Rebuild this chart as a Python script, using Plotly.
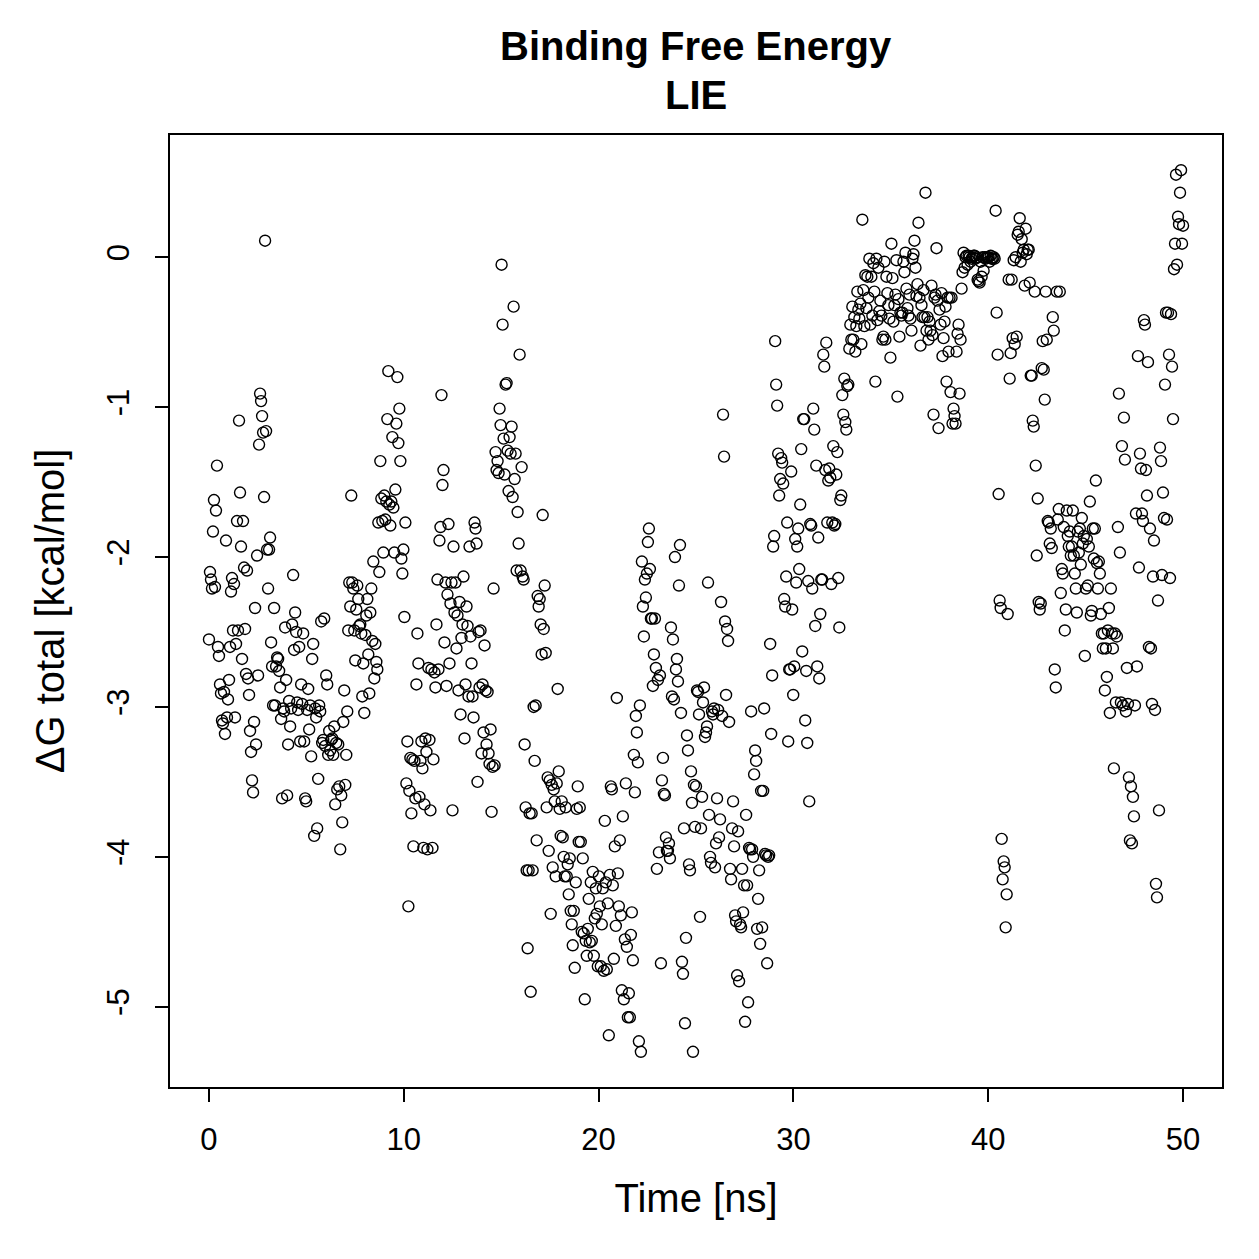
import plotly.graph_objects as go

# Delta G total (kcal/mol) per MD frame, in time order
dg_00_02 = [-2.55, -2.10, -2.15, -2.21, -1.83, -1.62, -2.20, -1.69, -1.39, -2.60, -2.66, -2.85, -2.91,
            -3.09, -3.11, -2.90, -3.18, -1.89, -3.07, -2.95, -2.82, -2.60, -2.23, -2.14, -2.49, -2.18,
            -3.07, -2.58, -1.76, -2.49, -1.09, -1.57, -1.93, -2.68, -1.76, -2.07, -2.48, -2.78, -2.09]
dg_02_05 = [-2.81, -2.92, -3.16, -3.30, -3.49, -3.57, -3.10, -2.34, -3.25, -1.99, -2.79, -1.25, -0.91,
            -0.96, -1.06, -1.17, -1.60, 0.11, -1.16, -1.95, -2.21, -1.95, -1.87, -2.57, -2.73, -2.99,
            -2.34, -2.99, -2.73, -2.67, -2.68, -2.76, -2.87, -3.08, -3.61, -3.01, -3.03, -2.47, -2.82,
            -3.59, -3.25, -2.96, -3.13, -3.01, -2.45, -2.12, -2.62, -2.37, -2.50, -2.97, -3.02, -2.60, -3.23]
dg_05_08 = [-2.85, -2.98, -2.51, -3.23, -3.61, -3.63, -3.02, -2.88, -3.15, -2.99, -3.33, -2.68, -2.58,
            -3.86, -3.01, -3.07, -3.81, -3.48, -2.99, -3.03, -2.43, -3.24, -3.22, -2.41, -3.26, -2.79,
            -2.85, -3.32, -3.16, -3.29, -3.22, -3.21, -3.32, -3.13, -3.65, -3.24, -3.55, -3.25, -3.53,
            -3.95, -3.59, -3.77, -3.10, -2.89, -3.52, -3.32, -3.03, -2.49, -2.17, -2.33, -1.59, -2.17,
            -2.21, -2.49, -2.69, -2.35, -2.19, -2.28, -2.46]
dg_08_11 = [-2.45, -2.51, -2.93, -2.71, -3.04, -2.52, -2.39, -2.28, -2.65, -2.91, -2.37, -2.21, -2.56,
            -2.03, -2.81, -2.58, -2.70, -2.75, -1.77, -2.10, -1.36, -1.61, -1.76, -1.97, -1.59, -1.75,
            -1.63, -1.08, -0.76, -1.65, -1.79, -1.63, -1.20, -1.67, -1.97, -1.55, -1.11, -0.80, -1.24,
            -1.01, -1.36, -2.01, -2.11, -1.95, -2.40, -1.77, -3.51, -3.23, -4.33, -3.56, -3.34, -3.71,
            -3.35, -3.93, -3.36, -3.61, -2.85, -2.51, -2.71]
dg_11_14 = [-3.60, -3.36, -3.23, -3.41, -3.94, -3.65, -3.21, -3.30, -3.95, -2.74, -3.22, -3.69, -2.75,
            -3.94, -3.35, -2.77, -2.87, -2.45, -2.15, -2.75, -1.89, -1.80, -0.92, -1.52, -1.42, -2.57,
            -2.17, -2.86, -2.25, -1.78, -2.71, -2.31, -2.17, -3.69, -1.93, -2.37, -2.17, -2.61, -2.39,
            -2.89, -2.30, -3.05, -2.54, -2.45, -2.13, -3.21, -2.85, -2.33, -2.46, -2.93, -1.93, -2.53,
            -2.71, -2.93, -3.07, -1.77, -1.81, -1.91, -3.50, -2.50]
dg_14_17 = [-2.87, -2.49, -3.31, -2.85, -3.17, -2.59, -2.89, -3.25, -2.90, -3.31, -3.38, -3.15, -3.70,
            -3.40, -2.21, -3.39, -1.30, -1.42, -1.36, -1.44, -1.01, -1.12, -0.05, -0.45, -1.21, -1.45,
            -0.85, -0.84, -1.29, -1.56, -1.20, -1.31, -1.13, -1.60, -0.33, -1.48, -1.31, -2.09, -1.70,
            -1.91, -0.65, -2.09, -1.40, -2.13, -2.15, -3.25, -3.67, -4.09, -4.61, -4.09, -3.71, -4.90,
            -3.71, -4.09, -3.00, -3.36, -2.99, -3.89, -2.26, -2.33]
dg_17_20 = [-2.28, -2.45, -2.65, -1.72, -2.48, -2.19, -2.64, -3.67, -3.47, -3.96, -3.49, -4.38, -3.52,
            -4.07, -3.55, -3.63, -4.13, -3.51, -2.88, -3.43, -3.68, -3.86, -3.63, -3.87, -4.00, -4.13,
            -3.67, -4.13, -4.05, -4.25, -4.01, -4.36, -4.45, -4.59, -4.36, -4.74, -4.17, -3.68, -3.53,
            -3.90, -3.67, -3.90, -4.50, -4.01, -4.51, -4.95, -4.56, -4.66, -4.48, -4.28, -4.57, -4.17,
            -4.56, -4.10, -4.66, -4.41, -4.21, -4.38]
dg_20_23 = [-4.73, -4.13, -4.33, -4.73, -4.45, -4.21, -4.76, -3.76, -4.17, -4.75, -4.31, -5.19, -4.12,
            -3.53, -3.55, -4.19, -4.68, -3.93, -4.46, -2.94, -4.11, -4.33, -3.89, -4.39, -4.89, -3.73,
            -4.95, -4.55, -3.51, -4.60, -5.07, -4.91, -5.07, -4.52, -4.37, -4.69, -3.32, -3.57, -3.06,
            -3.17, -3.37, -5.23, -2.99, -5.30, -2.03, -2.33, -2.53, -2.15, -2.27, -2.11, -1.90, -1.81,
            -2.08, -2.41, -2.41, -2.86, -2.65, -2.41, -2.74]
dg_23_26 = [-4.08, -2.82, -3.97, -2.79, -4.71, -3.49, -3.34, -3.58, -3.59, -3.87, -3.96, -3.96, -3.91,
            -4.01, -2.47, -2.93, -2.55, -2.95, -2.00, -2.75, -2.68, -2.83, -2.19, -1.92, -3.04, -4.70,
            -4.78, -3.81, -5.11, -4.54, -3.19, -3.29, -4.05, -4.09, -3.43, -3.64, -5.30, -3.52, -3.80,
            -3.53, -2.89, -2.90, -3.05, -4.40, -3.81, -3.60, -2.97, -2.87, -3.20, -3.17, -3.13, -2.17,
            -3.72, -4.00, -4.04, -3.03, -3.05, -3.01, -4.07]
dg_26_29 = [-3.91, -3.61, -3.02, -3.87, -3.75, -2.30, -3.06, -1.05, -1.33, -2.43, -2.92, -2.48, -2.56,
            -3.10, -4.08, -4.15, -3.81, -3.63, -3.93, -4.39, -4.43, -4.79, -3.83, -4.83, -4.45, -4.47,
            -4.08, -4.37, -4.19, -5.10, -3.72, -4.19, -4.97, -3.94, -3.95, -3.03, -3.95, -4.00, -3.45,
            -3.29, -3.36, -4.48, -4.28, -4.09, -4.58, -3.56, -4.47, -3.56, -3.01, -3.98, -3.99, -4.71,
            -4.00, -3.99, -2.58, -3.18, -2.79, -1.93, -1.86]
dg_29_32 = [-0.56, -0.85, -0.99, -1.31, -1.59, -1.48, -1.34, -1.37, -1.51, -2.28, -2.33, -2.13, -1.77,
            -3.23, -2.75, -2.75, -1.43, -2.35, -2.92, -2.73, -1.88, -2.17, -1.93, -1.81, -2.08, -1.65,
            -1.28, -2.63, -1.08, -1.08, -3.09, -2.76, -3.24, -2.16, -3.63, -1.78, -1.79, -2.21, -1.01,
            -1.15, -2.46, -1.39, -2.73, -1.87, -2.81, -2.38, -2.15, -2.15, -0.65, -0.73, -1.42, -0.57,
            -1.77, -1.49, -1.41, -1.47, -2.18, -1.77]
dg_32_35 = [-1.26, -1.79, -1.78, -1.45, -1.30, -2.14, -2.47, -1.62, -1.59, -0.92, -1.05, -0.81, -1.10,
            -1.15, -0.86, -0.85, -0.61, -0.45, -0.55, -0.33, -0.55, -0.40, -0.63, -0.46, -0.23, -0.35,
            -0.41, -0.31, -0.58, 0.25, -0.22, -0.46, -0.12, -0.34, -0.13, -0.27, -0.01, -0.45, -0.13,
            -0.39, -0.04, -0.23, -0.83, -0.01, -0.42, -0.07, -0.36, -0.29, -0.39, -0.55, -0.53, -0.03,
            -0.55, -0.13, -0.24, -0.32, -0.41, -0.67]
dg_35_38 = [0.09, -0.14, -0.43, -0.32, -0.25, -0.02, -0.93, -0.28, -0.53, -0.37, -0.39, -0.37, -0.03,
            -0.10, 0.03, -0.21, -0.34, -0.39, -0.25, -0.41, -0.49, -0.01, 0.02, 0.11, -0.07, -0.26,
            -0.18, 0.23, -0.27, -0.59, -0.32, -0.40, -0.22, -0.40, 0.43, -0.49, -0.40, -0.55, -0.43,
            -0.49, -0.19, -0.52, -1.05, -0.27, -0.25, 0.06, -0.29, -1.14, -0.35, -0.45, -0.24, -0.66,
            -0.54, -0.43, -0.33, -0.83, -0.27, -0.63, -0.27]
dg_38_41 = [-0.90, -0.27, -1.11, -1.01, -1.06, -1.11, -0.63, -0.51, -0.45, -0.91, -0.55, -0.21, -0.10,
            0.03, -0.07, 0.00, 0.01, -0.05, 0.01, 0.00, -0.03, -0.01, 0.00, 0.01, 0.01, -0.01, 0.00,
            -0.15, -0.16, -0.17, -0.03, -0.13, 0.00, -0.09, 0.00, -0.01, 0.00, 0.00, 0.00, -0.03, 0.01,
            -0.01, -0.01, 0.00, -0.01, 0.31, -0.37, -0.65, -1.58, -2.29, -2.34, -3.88, -4.15, -4.03,
            -4.07, -4.47, -4.25, -2.38]
dg_41_44 = [-0.15, -0.81, -0.64, -0.15, -0.54, -0.02, -0.58, 0.00, -0.53, 0.15, 0.17, 0.26, -0.03,
            0.12, 0.03, 0.05, -0.19, 0.19, 0.02, 0.05, 0.05, -0.17, -0.79, -0.79, -1.09, -1.13, -0.23,
            -1.39, -1.99, -1.61, -2.30, -2.35, -2.31, -0.74, -0.56, -0.75, -0.95, -0.23, -0.55, -1.76,
            -1.77, -1.91, -1.81, -1.94, -0.40, -0.49, -2.75, -2.87, -0.23, -1.75, -1.68, -0.23, -2.24,
            -2.08, -2.11, -1.80, -2.49, -2.35, -1.69]
dg_44_47 = [-1.86, -1.93, -1.83, -1.99, -1.93, -1.69, -1.99, -2.11, -2.21, -2.37, -1.83, -1.97, -1.81,
            -2.05, -1.74, -1.91, -1.86, -2.66, -2.21, -1.88, -2.19, -1.93, -1.63, -2.39, -2.36, -1.81,
            -2.01, -1.81, -1.49, -2.04, -2.21, -2.03, -2.11, -2.38, -2.51, -2.61, -2.51, -2.89, -2.61,
            -2.80, -2.49, -2.34, -3.04, -2.21, -2.51, -2.61, -3.41, -2.51, -2.97, -2.53, -1.80, -0.91,
            -1.97, -2.97, -1.26, -2.99, -1.07, -1.35]
dg_47_50 = [-3.03, -2.74, -2.98, -3.47, -3.89, -3.53, -3.91, -3.60, -3.73, -2.99, -1.71, -2.73, -0.66,
            -2.07, -1.31, -1.41, -1.71, -1.76, -0.42, -0.45, -1.42, -1.59, -0.70, -2.60, -1.81, -2.61,
            -2.98, -2.13, -1.89, -3.02, -4.18, -4.27, -2.29, -3.69, -1.27, -1.36, -2.12, -1.57, -1.74,
            -0.85, -0.37, -1.75, -0.37, -0.65, -2.14, -0.38, -0.73, -1.08, -0.08, 0.09, 0.55, -0.05,
            0.27, 0.22, 0.43, 0.58, 0.09, 0.21]

dg_total = (dg_00_02 + dg_02_05 + dg_05_08 + dg_08_11 + dg_11_14 + dg_14_17 + dg_17_20 + dg_20_23
            + dg_23_26 + dg_26_29 + dg_29_32 + dg_32_35 + dg_35_38 + dg_38_41 + dg_41_44 + dg_44_47
            + dg_47_50)

# trajectory sampled evenly from 0 to 50 ns
sim_start_ns = 0.0
sim_end_ns = 50.0
n_frames = len(dg_total)
time_ns = [sim_start_ns + (sim_end_ns - sim_start_ns) * i / (n_frames - 1) for i in range(n_frames)]

x_ticks = [0, 10, 20, 30, 40, 50]
y_ticks = [-5, -4, -3, -2, -1, 0]
title_lines = ["Binding Free Energy", "LIE"]

font_family = "Liberation Sans, Arial, Helvetica, sans-serif"

fig = go.Figure()
fig.add_trace(go.Scatter(
    x=time_ns, y=dg_total, mode="markers",
    marker=dict(symbol="circle-open", size=11, color="black", line=dict(width=1.4, color="black")),
    showlegend=False, hoverinfo="x+y",
))

fig.update_layout(
    width=1259, height=1259,
    margin=dict(l=170, r=37, t=135, b=172),
    paper_bgcolor="white", plot_bgcolor="white",
    font=dict(family=font_family, color="black", size=31),
)
# two-line bold main title above the plot box
for line_text, shift in zip(title_lines, [89, 40]):
    fig.add_annotation(
        text="<b>" + line_text + "</b>", xref="paper", yref="paper", x=0.5, y=1,
        xanchor="center", yanchor="middle", yshift=shift, showarrow=False,
        font=dict(size=40, family=font_family, color="black"),
    )

fig.update_xaxes(
    range=[-2, 52], tickmode="array", tickvals=x_ticks, ticktext=[str(v) for v in x_ticks],
    showgrid=False, zeroline=False, showline=True, linecolor="black", linewidth=2, mirror=True,
    ticks="outside", ticklen=13, tickwidth=2, tickcolor="black",
    tickfont=dict(size=31), ticklabelstandoff=11,
    title=dict(text="Time [ns]", font=dict(size=40), standoff=28),
)
fig.update_yaxes(
    range=[-5.535, 0.815], tickmode="array", tickvals=y_ticks, ticktext=[str(v) for v in y_ticks],
    showgrid=False, zeroline=False, showline=True, linecolor="black", linewidth=2, mirror=True,
    ticks="outside", ticklen=13, tickwidth=2, tickcolor="black",
    tickangle=-90, tickfont=dict(size=31), ticklabelstandoff=14,
    title=dict(text="ΔG total [kcal/mol]", font=dict(size=40), standoff=24),
)

fig.write_html("out.html")
